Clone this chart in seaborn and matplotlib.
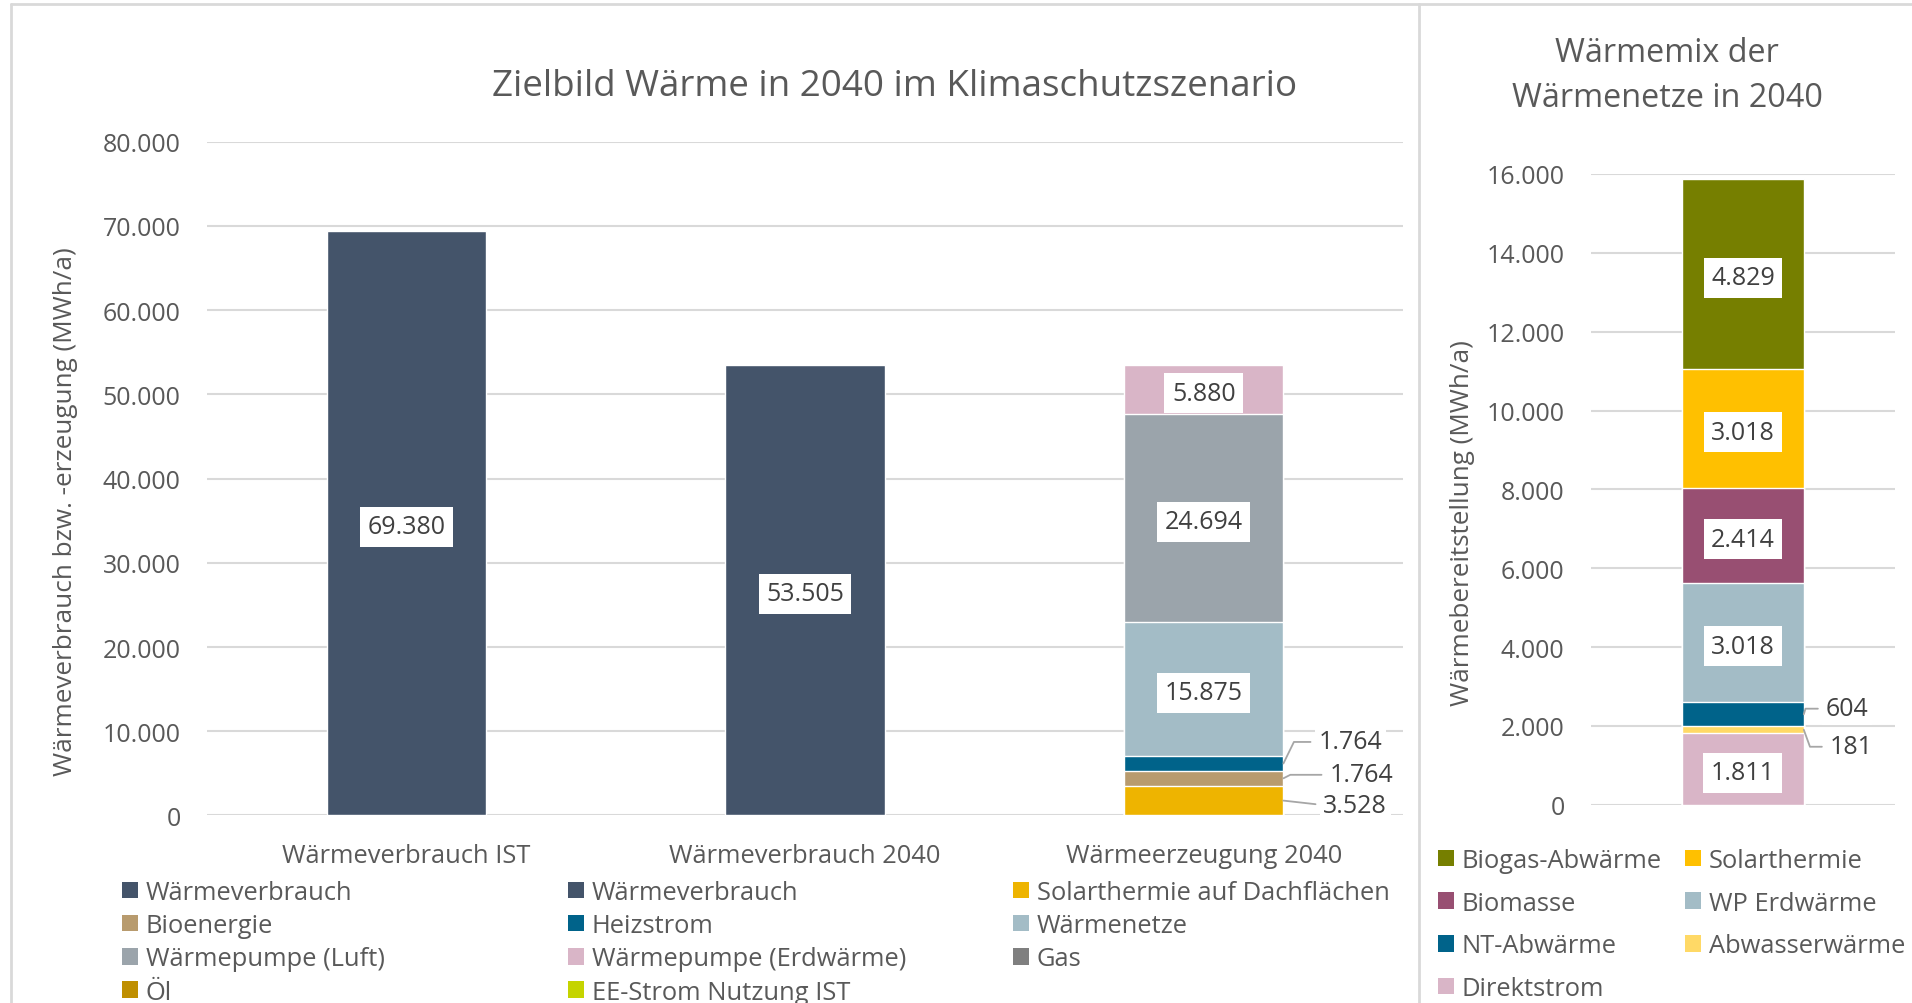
import numpy as np
import seaborn as sns
import matplotlib.pyplot as plt
from matplotlib.patches import Patch
from matplotlib.lines import Line2D
from matplotlib.ticker import FuncFormatter

# --- Daten: Zielbild Wärme 2040 ---
kategorien = ["Wärmeverbrauch IST", "Wärmeverbrauch 2040", "Wärmeerzeugung 2040"]
verbrauch_werte = [69380, 53505]
erzeugung_namen = ["Solarthermie auf Dachflächen", "Bioenergie", "Heizstrom",
                   "Wärmenetze", "Wärmepumpe (Luft)", "Wärmepumpe (Erdwärme)"]
erzeugung_werte = [3528, 1764, 1764, 15875, 24694, 5880]

# Legende links (Lesereihenfolge, 3 Spalten)
legende_links = ["Wärmeverbrauch", "Wärmeverbrauch", "Solarthermie auf Dachflächen",
                 "Bioenergie", "Heizstrom", "Wärmenetze",
                 "Wärmepumpe (Luft)", "Wärmepumpe (Erdwärme)", "Gas",
                 "Öl", "EE-Strom Nutzung IST"]

# --- Daten: Wärmemix der Wärmenetze 2040 ---
mix_kategorie = "Wärmenetze 2040"
mix_namen = ["Direktstrom", "Abwasserwärme", "NT-Abwärme", "WP Erdwärme",
             "Biomasse", "Solarthermie", "Biogas-Abwärme"]
mix_werte = [1811, 181, 604, 3018, 2414, 3018, 4829]

legende_rechts = ["Biogas-Abwärme", "Solarthermie", "Biomasse", "WP Erdwärme",
                  "NT-Abwärme", "Abwasserwärme", "Direktstrom"]

farben = {
    "Wärmeverbrauch": "#44546A",
    "Solarthermie auf Dachflächen": "#EEB400",
    "Bioenergie": "#B89B6E",
    "Heizstrom": "#00638A",
    "Wärmenetze": "#A3BCC6",
    "Wärmepumpe (Luft)": "#9BA4AB",
    "Wärmepumpe (Erdwärme)": "#D9B5C7",
    "Gas": "#7F7F7F",
    "Öl": "#BF8F00",
    "EE-Strom Nutzung IST": "#C5D400",
    "Biogas-Abwärme": "#767F00",
    "Solarthermie": "#FFC000",
    "Biomasse": "#984F72",
    "WP Erdwärme": "#A3BCC6",
    "NT-Abwärme": "#00638A",
    "Abwasserwärme": "#FFD966",
    "Direktstrom": "#D9B5C7",
}

# Versatz (Pixel) der Beschriftungen mit Führungslinie
fuehrung_links = {0: (40, -4.5, None), 1: (46, 3.5, 27), 2: (35, 21.5, 64)}
fuehrung_rechts = {1: (26, -17, -70), 2: (22, 5.6, 73)}

sns.set_style("white")
plt.rcParams["font.family"] = ["Open Sans", "DejaVu Sans"]
TXT = "#595959"
LBL = "#404040"
GRID = "#D9D9D9"
FS = 18
FS_LEG = 18.4
FS_YL = 18.8

fig = plt.figure(figsize=(19.12, 10.04), dpi=100)
ax1 = fig.add_axes([0.1083, 0.1868, 0.6255, 0.6711])
ax2 = fig.add_axes([0.8321, 0.1975, 0.1590, 0.6282])

punkt = FuncFormatter(lambda v, p: f"{int(v):,}".replace(",", "."))
fmt = lambda v: f"{v:,}".replace(",", ".")
box = dict(boxstyle="square,pad=0.3", fc="white", ec="none")


def stapel(ax, kat, order, namen, werte):
    summe = np.cumsum(werte)
    for i in reversed(range(len(werte))):
        sns.barplot(x=[kat], y=[summe[i]], order=order, color=farben[namen[i]],
                    width=0.4, saturation=1, errorbar=None, ax=ax)
    return summe


def mittig(ax, x, y, w):
    ax.annotate(fmt(w), xy=(x, y), xytext=(0, -3.5), textcoords="offset pixels",
                ha="center", va="center", fontsize=FS, color=LBL, bbox=box)


def beschriften(ax, xpos, werte, summe, fuehrung):
    for i, w in enumerate(werte):
        mitte = summe[i] - w / 2
        if i in fuehrung:
            dx, dy, winkel = fuehrung[i]
            cs = "arc3" if winkel is None else f"angle,angleA=0,angleB={winkel},rad=0"
            ax.annotate(fmt(w), xy=(xpos + 0.2, mitte), xytext=(dx, dy),
                        textcoords="offset pixels", ha="left", va="center",
                        fontsize=FS, color=LBL,
                        bbox=dict(boxstyle="square,pad=0.15", fc="white", ec="none"),
                        arrowprops=dict(arrowstyle="-", color="#A6A6A6", lw=1.3,
                                        shrinkA=3, shrinkB=0, relpos=(0, 0.5),
                                        connectionstyle=cs))
        else:
            mittig(ax, xpos, mitte, w)


# --- linkes Diagramm ---
sns.barplot(x=kategorien[:2], y=verbrauch_werte, order=kategorien,
            color=farben["Wärmeverbrauch"], width=0.4, saturation=1,
            errorbar=None, ax=ax1)
summe_e = stapel(ax1, kategorien[2], kategorien, erzeugung_namen, erzeugung_werte)
for i, w in enumerate(verbrauch_werte):
    mittig(ax1, i, w / 2, w)
beschriften(ax1, 2, erzeugung_werte, summe_e, fuehrung_links)
ax1.set_ylim(0, 80000)
ax1.set_yticks(range(0, 80001, 10000))
ax1.set_ylabel("Wärmeverbrauch bzw. -erzeugung (MWh/a)", fontsize=FS_YL, color=TXT, va="center")
ax1.yaxis.set_label_coords(-0.1187, 0.452)
ax1.set_xlabel("")

# --- rechtes Diagramm ---
summe_m = stapel(ax2, mix_kategorie, [mix_kategorie], mix_namen, mix_werte)
beschriften(ax2, 0, mix_werte, summe_m, fuehrung_rechts)
ax2.set_ylim(0, 16000)
ax2.set_yticks(range(0, 16001, 2000))
ax2.set_xticklabels([])
ax2.set_ylabel("Wärmebereitstellung (MWh/a)", fontsize=FS_YL, color=TXT, va="center")
ax2.yaxis.set_label_coords(-0.421, 0.448)
ax2.set_xlabel("")

for ax in (ax1, ax2):
    ax.set_axisbelow(True)
    ax.yaxis.grid(True, color=GRID, lw=1.5)
    ax.xaxis.grid(False)
    ax.yaxis.set_major_formatter(punkt)
    ax.tick_params(axis="y", length=0, pad=19, labelsize=FS, labelcolor=TXT)
    ax.tick_params(axis="x", length=0, pad=20, labelsize=FS_LEG, labelcolor=TXT)
    sns.despine(ax=ax, left=True, bottom=True)

# Titel
fig.text(895 / 1912, 1 - 87.5 / 1004, "Zielbild Wärme in 2040 im Klimaschutzszenario",
         ha="center", va="center", fontsize=26.5, color=TXT)
fig.text(1667 / 1912, 1 - 76 / 1004, "Wärmemix der\nWärmenetze in 2040",
         ha="center", va="center", fontsize=23.3, color=TXT, linespacing=1.45)


def legend_spalte(namen, x, y, abstand):
    griffe = [Patch(facecolor=farben[n], edgecolor="none") for n in namen]
    lg = fig.legend(griffe, namen, loc="upper left", bbox_to_anchor=(x / 1912, 1 - y / 1004),
                    frameon=False, fontsize=FS_LEG, labelcolor=TXT, handlelength=0.62,
                    handleheight=0.62, handletextpad=0.3, borderpad=0, borderaxespad=0,
                    labelspacing=abstand)
    return lg


for k, x in enumerate([122, 568, 1013]):
    legend_spalte(legende_links[k::3], x, 881, 0.32)
for k, x in enumerate([1438, 1685]):
    legend_spalte(legende_rechts[k::2], x, 849, 0.69)

# Rahmen
for x0, y0, x1, y1 in [(11, 5, 1912, 5), (11, 5, 11, 1004), (1419, 5, 1419, 1004)]:
    fig.add_artist(Line2D([x0 / 1912, x1 / 1912], [1 - y0 / 1004, 1 - y1 / 1004],
                          transform=fig.transFigure, color=GRID, lw=2))

fig.savefig("out.png", dpi=100)
